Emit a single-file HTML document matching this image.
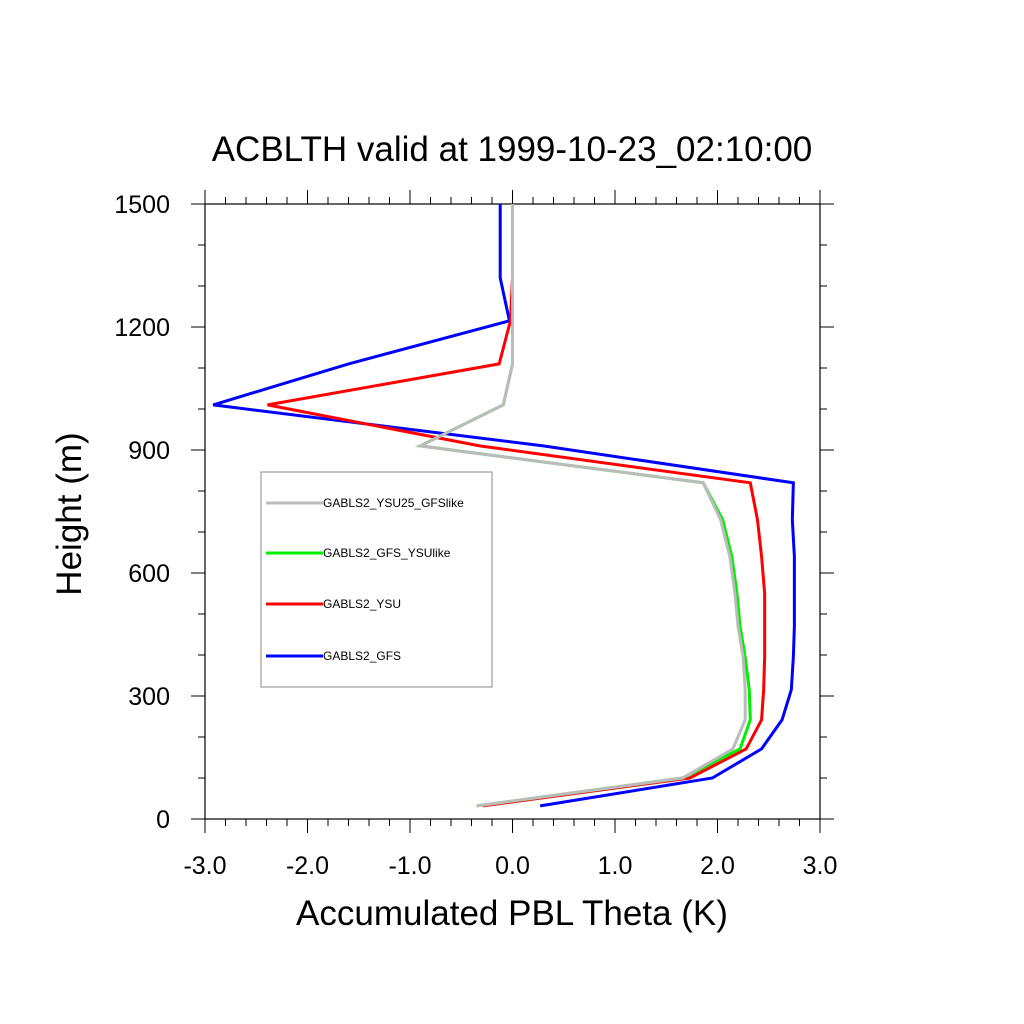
<!DOCTYPE html>
<html><head><meta charset="utf-8"><style>body{margin:0;background:#fff}svg{display:block}</style></head>
<body>
<svg id="c" width="1024" height="1024" xmlns="http://www.w3.org/2000/svg" font-family="Liberation Sans, sans-serif">
<rect width="1024" height="1024" fill="#fff"/>
<text x="512" y="161" font-size="35" text-anchor="middle">ACBLTH valid at 1999-10-23_02:10:00</text>
<text transform="translate(81,514) rotate(-90)" font-size="35" text-anchor="middle">Height (m)</text>
<text x="512" y="925" font-size="35" text-anchor="middle">Accumulated PBL Theta (K)</text>
<g id="axes"></g>
<g id="series"></g>
<g id="legend"></g>
</svg>
<script>
const heights=[32,100,171,242,315,395,470,550,640,730,820,910,1010,1110,1215,1320,1420,1500];
const gfs=[0.27,1.95,2.43,2.63,2.72,2.74,2.75,2.75,2.75,2.73,2.74,0.3,-2.92,-1.6,-0.03,-0.12,-0.12,-0.12];
const ysu=[-0.29,1.73,2.28,2.43,2.45,2.46,2.46,2.46,2.43,2.39,2.32,-0.32,-2.39,-0.13,-0.02,0,0,0];
const gfsYsulike=[-0.35,1.66,2.22,2.32,2.31,2.27,2.22,2.19,2.14,2.05,1.86,-0.9,-0.09,0,0,0,0,0];
const ysu25Gfslike=[-0.35,1.66,2.15,2.27,2.27,2.25,2.2,2.17,2.12,2.03,1.86,-0.9,-0.09,0,0,0,0,0];
const xTicks=[-3,-2,-1,0,1,2,3];
const xTickLabels=["-3.0","-2.0","-1.0","0.0","1.0","2.0","3.0"];
const yTicks=[0,300,600,900,1200,1500];
const seriesNames=["GABLS2_YSU25_GFSlike","GABLS2_GFS_YSUlike","GABLS2_YSU","GABLS2_GFS"];
const seriesColors=["#bbbbbb","#00ee00","#ff0000","#0000ff"];
const L=205,R=820,T=204,B=819;
const X=v=>L+(v+3)/6*(R-L);
const Y=h=>B-h/1500*(B-T);
const NS="http://www.w3.org/2000/svg";
function mk(tag,attrs,parent){const e=document.createElementNS(NS,tag);for(const k in attrs)e.setAttribute(k,attrs[k]);parent.appendChild(e);return e;}
const ax=document.getElementById('axes');
const fr=mk('rect',{x:L,y:T,width:R-L,height:B-T,fill:'none',stroke:'#000','stroke-width':1.2},ax);


for(let v=-3;v<=3.001;v+=0.2){const maj=Math.abs(v-Math.round(v))<0.01;const len=maj?14:7;const x=X(v);
 const t1=mk('line',{x1:x,x2:x,y1:B,y2:B+len,stroke:'#000','stroke-width':1},ax);
 const t2=mk('line',{x1:x,x2:x,y1:T,y2:T-len,stroke:'#000','stroke-width':1},ax);}
for(let h=0;h<=1500;h+=100){const maj=h%300===0;const len=maj?14:7;const y=Y(h);
 const t1=mk('line',{x1:L-len,x2:L,y1:y,y2:y,stroke:'#000','stroke-width':1},ax);
 const t2=mk('line',{x1:R,x2:R+len,y1:y,y2:y,stroke:'#000','stroke-width':1},ax);}
xTicks.forEach((v,i)=>{const t=mk('text',{x:X(v),y:874,'font-size':25,'text-anchor':'middle'},ax);t.textContent=xTickLabels[i];
 });
yTicks.forEach(h=>{const t=mk('text',{x:170,y:Y(h)+9,'font-size':25,'text-anchor':'end'},ax);t.textContent=String(h);
 });
const sg=document.getElementById('series');
const order=[3,2,1,0];
const allVals=[ysu25Gfslike,gfsYsulike,ysu,gfs];
order.forEach(i=>{const vals=allVals[i];
 const p=mk('polyline',{points:vals.map((v,j)=>X(v)+','+Y(heights[j])).join(' '),fill:'none',stroke:seriesColors[i],'stroke-width':3,'stroke-linejoin':'miter'},sg);
 
 });
const lg=document.getElementById('legend');
const lb=mk('rect',{x:261,y:472,width:231,height:215,fill:'none',stroke:'#888','stroke-width':1},lg);


const ly=[503,553,604,656];
seriesNames.forEach((n,i)=>{
 const l=mk('line',{x1:266,x2:323,y1:ly[i],y2:ly[i],stroke:seriesColors[i],'stroke-width':3},lg);
 
 
 const t=mk('text',{x:323,y:ly[i]+4,'font-size':12},lg);t.textContent=n;
 
 });
</script>
</body></html>
